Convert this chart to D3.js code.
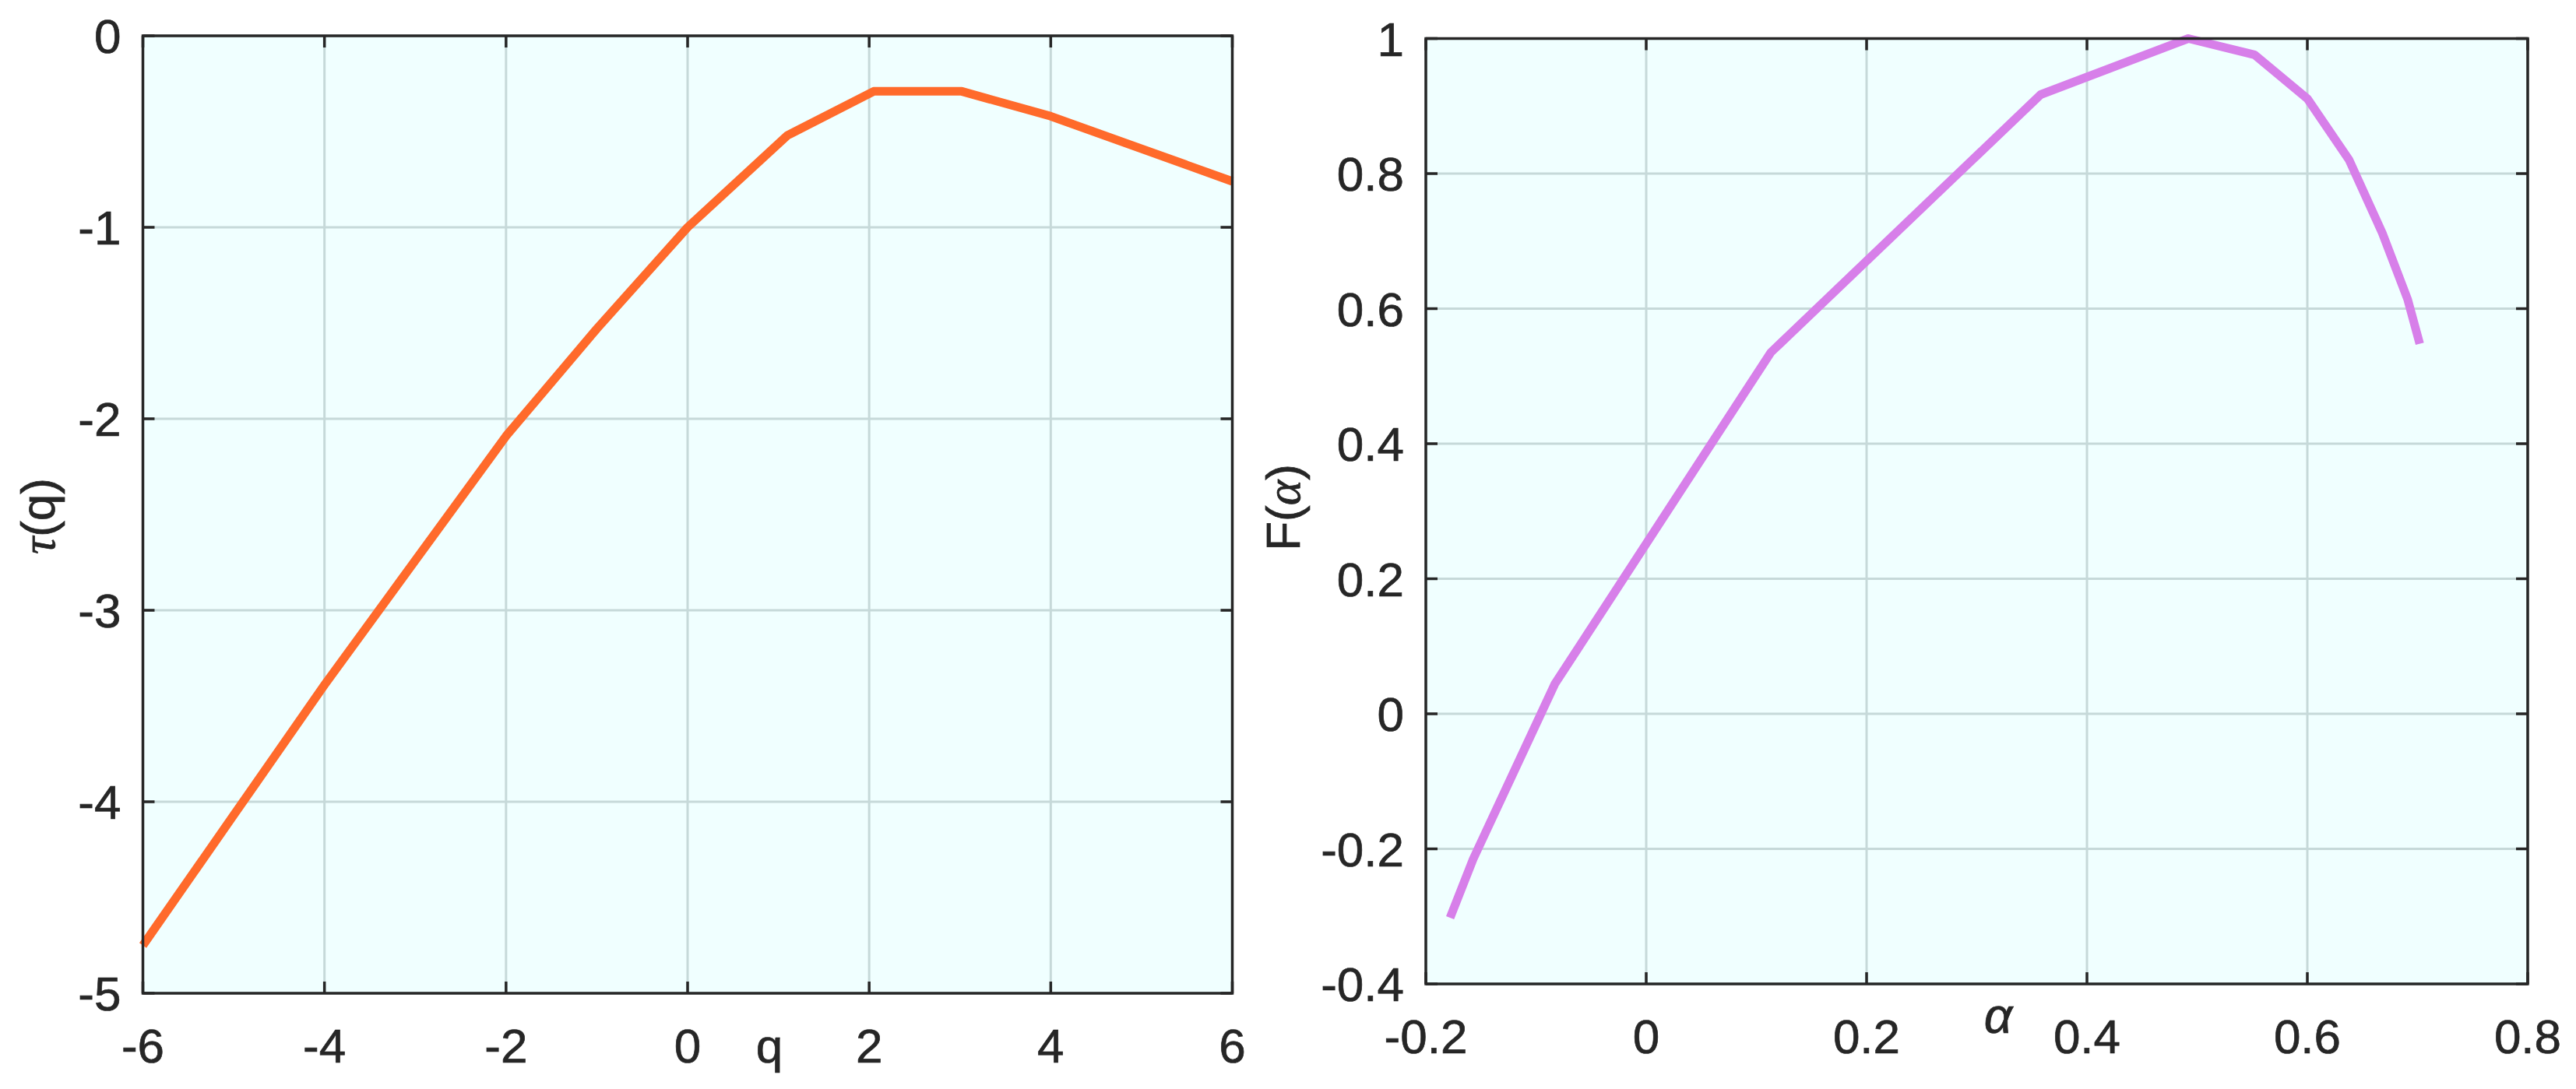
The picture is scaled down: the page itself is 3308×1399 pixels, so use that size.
<!DOCTYPE html>
<meta charset="utf-8">
<style>
body { margin: 0; background: #fff; }
text { font-family: "Liberation Sans", Arial, sans-serif; fill: #262626; stroke: #262626; stroke-width: 0.7; }
.frame { fill: none; stroke: #262626; stroke-width: 3.5; }
.grid line { stroke: #c6d9d9; stroke-width: 3; }
.tick-mark { stroke: #262626; stroke-width: 3.5; }
.curve { fill: none; stroke-width: 11; stroke-linejoin: round; }
</style>
<body>
<script src="https://d3js.org/d3.v7.min.js"></script>
<script>
// left panel: tau(q)
var qValues   = [-6, -5, -4, -3, -2, -1, 0, 1.1, 2.05, 3.02, 4, 5, 6]
var tauValues = [-4.75, -4.07, -3.39, -2.74, -2.09, -1.53, -1.0, -0.52, -0.29, -0.29, -0.42, -0.59, -0.76]
var qTicks    = [-6, -4, -2, 0, 2, 4, 6]
var qTickText = ['-6', '-4', '-2', '0', '2', '4', '6']
var tauTicks    = [0, -1, -2, -3, -4, -5]
var tauTickText = ['0', '-1', '-2', '-3', '-4', '-5']

// right panel: F(alpha)
var alphaValues = [-0.178, -0.157, -0.083, 0.113, 0.358, 0.492, 0.552, 0.600, 0.638, 0.668, 0.691, 0.702]
var fValues     = [-0.302, -0.215, 0.044, 0.535, 0.917, 1.0, 0.976, 0.911, 0.820, 0.712, 0.614, 0.548]
var alphaTicks    = [-0.2, 0, 0.2, 0.4, 0.6, 0.8]
var alphaTickText = ['-0.2', '0', '0.2', '0.4', '0.6', '0.8']
var fTicks    = [1, 0.8, 0.6, 0.4, 0.2, 0, -0.2, -0.4]
var fTickText = ['1', '0.8', '0.6', '0.4', '0.2', '0', '-0.2', '-0.4']

var width = 3308
var height = 1399

var svg = d3.select('body').append('svg')
    .attr('width', width)
    .attr('height', height)

function panel(opt) {
    var x = d3.scaleLinear().domain(opt.xDomain).range([opt.left, opt.right])
    var y = d3.scaleLinear().domain(opt.yDomain).range([opt.bottom, opt.top])
    var g = svg.append('g')

    g.append('rect')
        .attr('x', opt.left).attr('y', opt.top)
        .attr('width', opt.right - opt.left)
        .attr('height', opt.bottom - opt.top)
        .attr('fill', '#f0ffff')

    var grid = g.append('g').attr('class', 'grid')
    grid.selectAll('.gx').data(opt.xTicks).enter().append('line')
        .attr('x1', function (d) { return x(d) }).attr('x2', function (d) { return x(d) })
        .attr('y1', opt.top).attr('y2', opt.bottom)
    grid.selectAll('.gy').data(opt.yTicks).enter().append('line')
        .attr('y1', function (d) { return y(d) }).attr('y2', function (d) { return y(d) })
        .attr('x1', opt.left).attr('x2', opt.right)

    // inward ticks on all four sides
    var tl = 15
    opt.xTicks.forEach(function (d) {
        g.append('line').attr('class', 'tick-mark')
            .attr('x1', x(d)).attr('x2', x(d)).attr('y1', opt.bottom).attr('y2', opt.bottom - tl)
        g.append('line').attr('class', 'tick-mark')
            .attr('x1', x(d)).attr('x2', x(d)).attr('y1', opt.top).attr('y2', opt.top + tl)
    })
    opt.yTicks.forEach(function (d) {
        g.append('line').attr('class', 'tick-mark')
            .attr('y1', y(d)).attr('y2', y(d)).attr('x1', opt.left).attr('x2', opt.left + tl)
        g.append('line').attr('class', 'tick-mark')
            .attr('y1', y(d)).attr('y2', y(d)).attr('x1', opt.right).attr('x2', opt.right - tl)
    })

    var pts = opt.xs.map(function (d, i) { return [d, opt.ys[i]] })
    var line = d3.line()
        .x(function (d) { return x(d[0]) })
        .y(function (d) { return y(d[1]) })
    g.append('path')
        .datum(pts)
        .attr('class', 'curve')
        .attr('stroke', opt.color)
        .attr('d', line)

    g.append('rect').attr('class', 'frame')
        .attr('x', opt.left).attr('y', opt.top)
        .attr('width', opt.right - opt.left)
        .attr('height', opt.bottom - opt.top)

    g.selectAll('.xl').data(opt.xTicks).enter().append('text')
        .attr('x', function (d) { return x(d) })
        .attr('y', opt.bottom + 89)
        .attr('text-anchor', 'middle')
        .attr('font-size', 62)
        .text(function (d, i) { return opt.xTickText[i] })

    g.selectAll('.yl').data(opt.yTicks).enter().append('text')
        .attr('x', opt.left - 28)
        .attr('y', function (d) { return y(d) + 22 })
        .attr('text-anchor', 'end')
        .attr('font-size', 62)
        .text(function (d, i) { return opt.yTickText[i] })

    return { x: x, y: y, g: g }
}

var left = panel({
    left: 183.5, right: 1582.5, top: 46, bottom: 1276,
    xDomain: [-6, 6], yDomain: [-5, 0],
    xTicks: qTicks, xTickText: qTickText,
    yTicks: tauTicks, yTickText: tauTickText,
    xs: qValues, ys: tauValues, color: '#ff6a2b'
})

var right = panel({
    left: 1831, right: 3246, top: 49.5, bottom: 1264,
    xDomain: [-0.2, 0.8], yDomain: [-0.4, 1],
    xTicks: alphaTicks, xTickText: alphaTickText,
    yTicks: fTicks, yTickText: fTickText,
    xs: alphaValues, ys: fValues, color: '#d77fe9'
})

// axis labels
left.g.append('text')
    .attr('x', 988).attr('y', 1365)
    .attr('text-anchor', 'middle')
    .attr('font-size', 62)
    .text('q')

var ylab = left.g.append('text')
    .attr('transform', 'translate(70,663) rotate(-90)')
    .attr('text-anchor', 'middle')
    .attr('font-size', 62)
ylab.append('tspan').attr('font-family', '"Liberation Serif", serif').attr('font-style', 'italic').text('τ')
ylab.append('tspan').text('(q)')

right.g.append('text')
    .attr('x', 2566).attr('y', 1327)
    .attr('text-anchor', 'middle')
    .attr('font-size', 64)
    .attr('font-family', '"Liberation Serif", serif')
    .attr('font-style', 'italic')
    .text('α')

var flab = right.g.append('text')
    .attr('transform', 'translate(1669,652) rotate(-90)')
    .attr('text-anchor', 'middle')
    .attr('font-size', 62)
flab.append('tspan').text('F(')
flab.append('tspan').attr('font-family', '"Liberation Serif", serif').attr('font-style', 'italic').text('α')
flab.append('tspan').text(')')
</script>
</body>
